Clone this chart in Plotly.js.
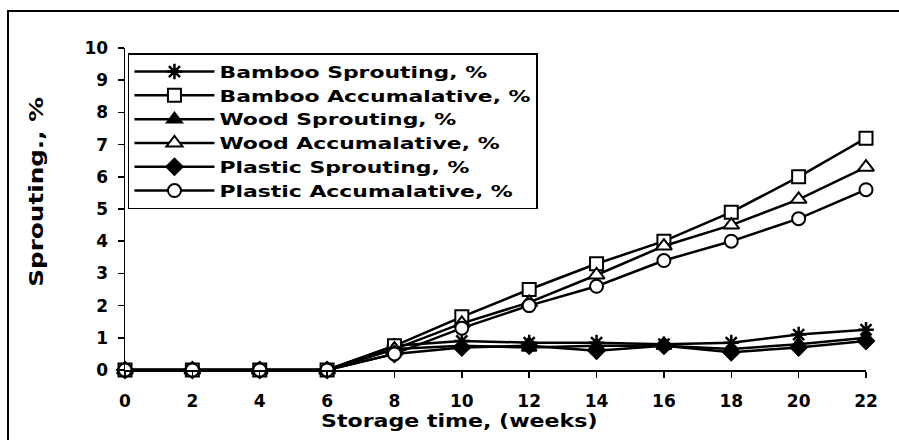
<!DOCTYPE html>
<html>
<head>
<meta charset="utf-8">
<script src="https://cdn.plot.ly/plotly-3.0.1.min.js"></script>
<style>
html,body{margin:0;padding:0;background:#fff;overflow:hidden;}
#chart{position:absolute;left:0;top:0;width:899px;height:440px;}
#frame{position:absolute;left:7px;top:10px;width:892px;height:430px;border-top:2px solid #000;border-left:2px solid #000;pointer-events:none;box-sizing:border-box;}
/* the original uses a wide, extended bold face: widen the glyphs */
.legendtext{transform-box:fill-box;transform-origin:0 50%;transform:scaleX(1.37);}
.annotation-text{transform-box:fill-box;transform-origin:50% 50%;transform:scaleX(1.3);}
</style>
</head>
<body>
<div id="chart"></div>
<div id="frame"></div>
<script>
// ---- data ----
const weeks = [0, 2, 4, 6, 8, 10, 12, 14, 16, 18, 20, 22];
const bambooSprouting = [0, 0, 0, 0, 0.75, 0.9, 0.85, 0.85, 0.8, 0.85, 1.1, 1.25];
const bambooAccum     = [0, 0, 0, 0, 0.75, 1.65, 2.5, 3.3, 4.0, 4.9, 6.0, 7.2];
const woodSprouting   = [0, 0, 0, 0, 0.65, 0.75, 0.7, 0.75, 0.75, 0.65, 0.8, 1.0];
const woodAccum       = [0, 0, 0, 0, 0.65, 1.45, 2.1, 2.95, 3.85, 4.5, 5.3, 6.3];
const plasticSprouting= [0, 0, 0, 0, 0.5, 0.7, 0.75, 0.6, 0.75, 0.55, 0.7, 0.9];
const plasticAccum    = [0, 0, 0, 0, 0.5, 1.3, 2.0, 2.6, 3.4, 4.0, 4.7, 5.6];

const seriesNames = [
  'Bamboo Sprouting, %', 'Bamboo Accumalative, %',
  'Wood Sprouting, %', 'Wood Accumalative, %',
  'Plastic Sprouting, %', 'Plastic Accumalative, %'
];
const xTickVals = [0, 2, 4, 6, 8, 10, 12, 14, 16, 18, 20, 22];
const xTickText = ['0', '2', '4', '6', '8', '10', '12', '14', '16', '18', '20', '22'];
const yTickVals = [0, 1, 2, 3, 4, 5, 6, 7, 8, 9, 10];
const yTickText = ['0', '1', '2', '3', '4', '5', '6', '7', '8', '9', '10'];
const xTitle = 'Storage time, (weeks)';
const yTitle = 'Sprouting., %';

// ---- styles ----
const FONT = 'DejaVu Sans, Arial, sans-serif';
const markerDefs = [
  {symbol: 'asterisk-open', size: 13, color: '#000', line: {color: '#000', width: 2.5}},
  {symbol: 'square', size: 13, color: '#fff', line: {color: '#000', width: 2}},
  {symbol: 'triangle-up', size: 13, color: '#000', line: {color: '#000', width: 2}},
  {symbol: 'triangle-up', size: 14, color: '#fff', line: {color: '#000', width: 2}},
  {symbol: 'diamond', size: 13, color: '#000', line: {color: '#000', width: 1.5}},
  {symbol: 'circle', size: 13, color: '#fff', line: {color: '#000', width: 2}}
];
const seriesValues = [bambooSprouting, bambooAccum, woodSprouting, woodAccum, plasticSprouting, plasticAccum];

const traces = seriesValues.map((vals, i) => ({
  type: 'scatter',
  mode: 'lines+markers',
  x: weeks,
  y: vals,
  name: seriesNames[i],
  line: {color: '#000', width: 2.5},
  marker: markerDefs[i],
  cliponaxis: false,
  legendgroup: 'g' + i
}));

const layout = {
  width: 899,
  height: 440,
  margin: {l: 125, r: 33, t: 48, b: 70},
  paper_bgcolor: '#fff',
  plot_bgcolor: '#fff',
  font: {family: FONT, color: '#000', size: 16, weight: 'bold'},
  showlegend: true,
  xaxis: {
    range: [0, 22],
    tickmode: 'array', tickvals: xTickVals, ticktext: xTickText,
    ticks: 'outside', ticklen: 6, tickwidth: 1.5, tickcolor: '#000',
    showline: true, linewidth: 1.5, linecolor: '#000',
    showgrid: false, zeroline: false,
    tickfont: {family: FONT, size: 17, color: '#000', weight: 'bold'},
    ticklabelstandoff: 9
  },
  yaxis: {
    range: [0, 10],
    tickmode: 'array', tickvals: yTickVals, ticktext: yTickText,
    ticks: 'outside', ticklen: 6, tickwidth: 1.5, tickcolor: '#000',
    showline: true, linewidth: 1.5, linecolor: '#000',
    showgrid: false, zeroline: false,
    tickfont: {family: FONT, size: 17, color: '#000', weight: 'bold'},
    ticklabelstandoff: 6
  },
  legend: {
    x: 0.004, y: 0.984, xanchor: 'left', yanchor: 'top',
    bgcolor: '#fff', bordercolor: '#000', borderwidth: 1.5,
    font: {family: FONT, size: 16, color: '#000', weight: 'bold'},
    itemwidth: 80, tracegroupgap: 0
  },
  annotations: [
    {text: xTitle, xref: 'paper', yref: 'paper', x: 0.452, y: -0.158,
     xanchor: 'center', yanchor: 'middle', showarrow: false,
     font: {family: FONT, size: 17, color: '#000', weight: 'bold'}},
    {text: yTitle, xref: 'paper', yref: 'paper', x: -0.119, y: 0.553,
     xanchor: 'center', yanchor: 'middle', showarrow: false, textangle: -90,
     font: {family: FONT, size: 19, color: '#000', weight: 'bold'}}
  ]
};

Plotly.newPlot('chart', traces, layout, {staticPlot: true, displayModeBar: false});
</script>
</body>
</html>
